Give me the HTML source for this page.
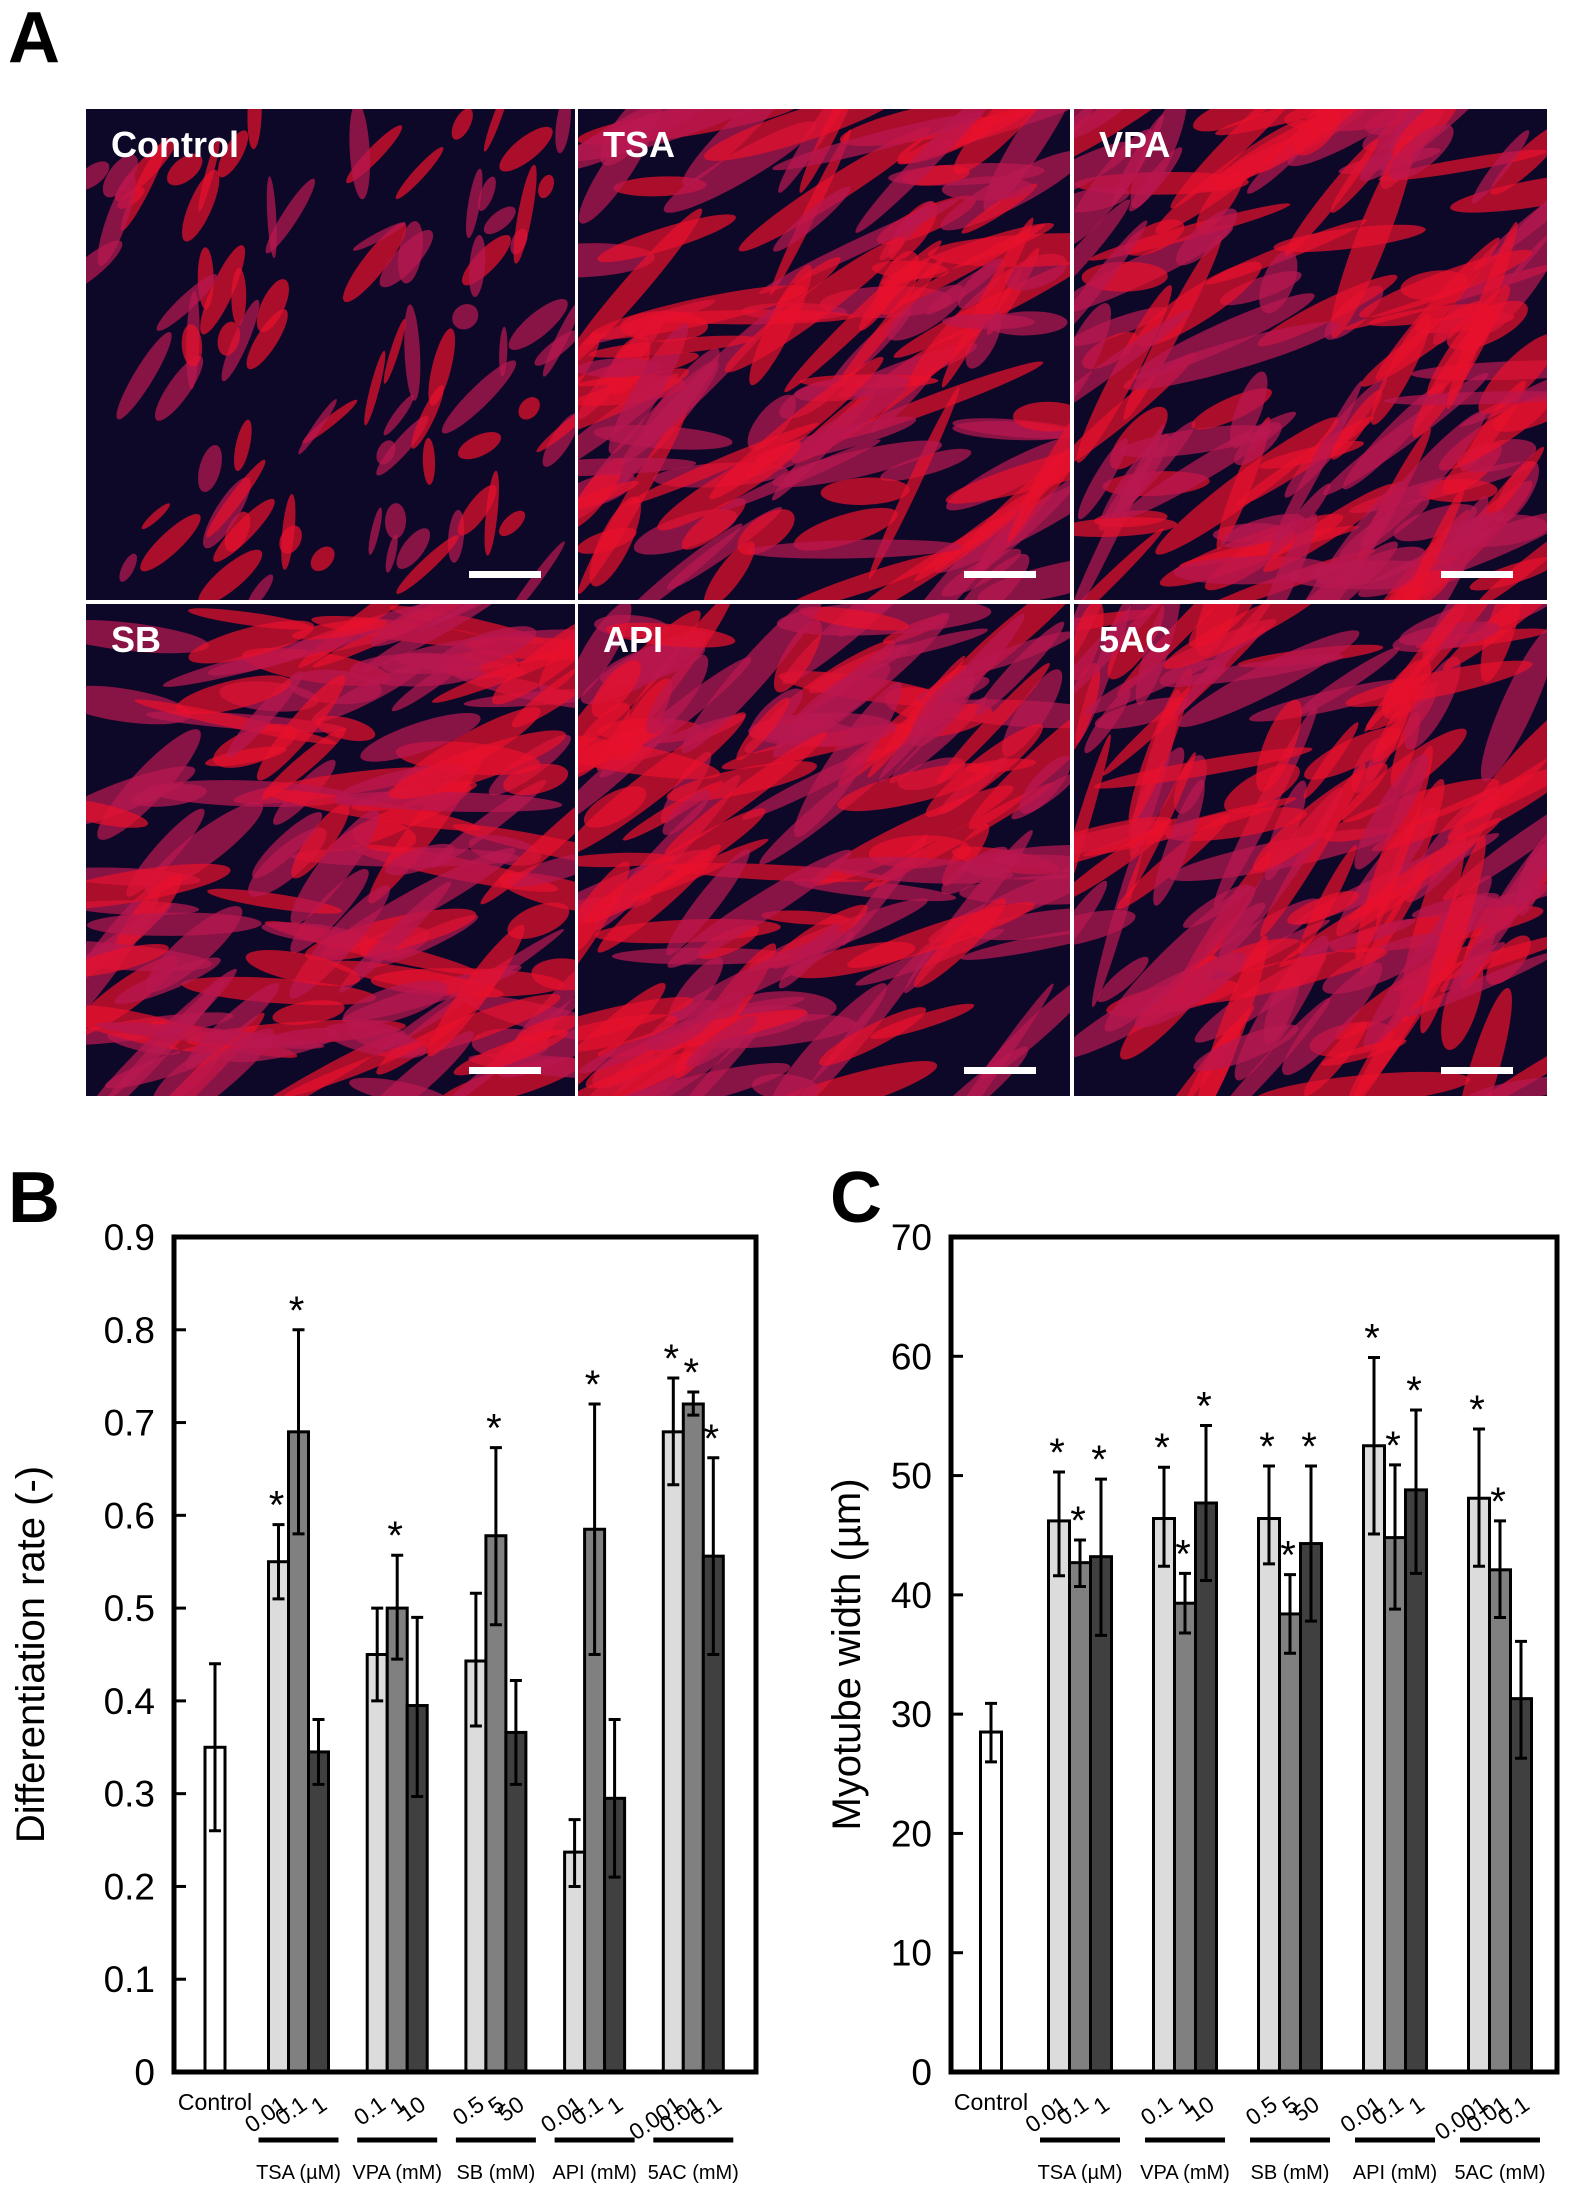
<!DOCTYPE html>
<html><head><meta charset="utf-8">
<style>
html,body{margin:0;padding:0;background:#fff;}
svg{display:block;font-family:"Liberation Sans",Arial,sans-serif;}
</style></head>
<body>
<svg id="fig" width="1575" height="2186" viewBox="0 0 1575 2186" xmlns="http://www.w3.org/2000/svg">
<defs>
<clipPath id="c0"><rect x="86" y="109" width="489" height="491"/></clipPath>
<clipPath id="c1"><rect x="578" y="109" width="492" height="491"/></clipPath>
<clipPath id="c2"><rect x="1074" y="109" width="473" height="491"/></clipPath>
<clipPath id="c3"><rect x="86" y="604" width="489" height="492"/></clipPath>
<clipPath id="c4"><rect x="578" y="604" width="492" height="492"/></clipPath>
<clipPath id="c5"><rect x="1074" y="604" width="473" height="492"/></clipPath>
</defs>
<text x="8" y="62" font-size="72" font-weight="bold">A</text>
<text x="8" y="1222" font-size="72" font-weight="bold">B</text>
<text x="830" y="1222" font-size="72" font-weight="bold">C</text>
<g id="micro"></g>
<g id="chartB"></g>
<g id="chartC"></g>
</svg>
<script>
const NS="http://www.w3.org/2000/svg";
function mk(p,tag,attrs,txt){const e=document.createElementNS(NS,tag);for(const k in attrs)e.setAttribute(k,attrs[k]);if(txt!==undefined)e.textContent=txt;p.appendChild(e);return e;}

// ---------- Panel A micrographs (decorative) ----------
const panelNames=["Control","TSA","VPA","SB","API","5AC"];
const cells=[[86,109,489,491],[578,109,492,491],[1074,109,473,491],[86,604,489,492],[578,604,492,492],[1074,604,473,492]];
const density=[90,130,140,140,140,135];
const angles=[-60,-30,-35,-20,-25,-40];
let seed=12345;function rnd(){seed=(seed*1103515245+12345)%2147483648;return seed/2147483648;}
const micro=document.getElementById('micro');
mk(micro,'rect',{x:84,y:107,width:1465,height:991,fill:'#ffffff'});
cells.forEach((c,i)=>{
  const g=mk(micro,'g',{'clip-path':'url(#c'+i+')'});
  
  
  mk(g,'rect',{x:c[0],y:c[1],width:c[2],height:c[3],fill:'#0e0828'});
  for(let k=0;k<density[i];k++){
    const cx=c[0]+rnd()*c[2], cy=c[1]+rnd()*c[3];
    const len=i==0?12+rnd()*40:30+rnd()*85, w=i==0?4+rnd()*8:6+rnd()*11;
    const a=angles[i]+(rnd()-0.5)*70;
    mk(g,'ellipse',{cx:cx,cy:cy,rx:len,ry:w,fill:rnd()<0.5?'#e8102c':'#b81850','fill-opacity':0.72,transform:`rotate(${a} ${cx} ${cy})`});
  }
  const lx=c[0]+25, ly=c[1]+48;
  const t=mk(g,'text',{x:lx,y:ly,'font-size':36,'font-weight':'bold',fill:'#fff'},panelNames[i]);
  
  
  const sb=mk(g,'rect',{x:c[0]+c[2]-106,y:c[1]+c[3]-29,width:72,height:7,fill:'#fff'});
  
  
});

// ---------- Chart data ----------
const groups=["TSA (\u00b5M)","VPA (mM)","SB (mM)","API (mM)","5AC (mM)"];
const doses=[["0.01","0.1","1"],["0.1","1","10"],["0.5","5","50"],["0.01","0.1","1"],["0.001","0.01","0.1"]];
const bControl=[0.35,0.26,0.44];
const bMean=[[0.55,0.69,0.345],[0.45,0.50,0.395],[0.443,0.578,0.366],[0.237,0.585,0.295],[0.69,0.72,0.556]];
const bLo=[[0.51,0.58,0.31],[0.40,0.445,0.297],[0.373,0.482,0.31],[0.20,0.45,0.21],[0.633,0.708,0.45]];
const bHi=[[0.59,0.80,0.38],[0.50,0.557,0.49],[0.516,0.673,0.422],[0.272,0.72,0.38],[0.748,0.733,0.662]];
const bStar=[[1,1,0],[0,1,0],[0,1,0],[0,1,0],[1,1,1]];
const bTicks=["0","0.1","0.2","0.3","0.4","0.5","0.6","0.7","0.8","0.9"];
const cControl=[28.5,26.0,30.9];
const cMean=[[46.2,42.7,43.2],[46.4,39.3,47.7],[46.4,38.4,44.3],[52.5,44.8,48.8],[48.1,42.1,31.3]];
const cLo=[[41.6,40.7,36.6],[42.4,36.8,41.2],[42.6,35.1,37.8],[45.1,38.8,41.8],[42.4,38.1,26.3]];
const cHi=[[50.3,44.6,49.7],[50.7,41.8,54.2],[50.8,41.7,50.8],[59.9,50.9,55.5],[53.9,46.2,36.1]];
const cStar=[[1,1,1],[1,1,1],[1,1,1],[1,1,1],[1,1,0]];
const cTicks=["0","10","20","30","40","50","60","70"];
const fills=["#dcdcdc","#808080","#404040"];

function drawChart(root,o){
  const {L,R,T,B,ymax,ticks,ctrlOff,g0Off,gap,bw,title,ctrl,mean,lo,hi,star,tickX,titleX,prefix}=o;
  const y=v=>B-(v/ymax)*(B-T);
  const gx=(gi,bi)=>L+g0Off+gi*gap+(bi-1)*bw;
  ticks.forEach(t=>{
    const v=parseFloat(t);
    const tk=mk(root,'line',{x1:L,x2:L+12,y1:y(v),y2:y(v),stroke:'#000','stroke-width':3});
    
    
    const tl=mk(root,'text',{x:tickX,y:y(v)+13,'font-size':37,'text-anchor':'end'},t);
    
    
  });
  const yt=mk(root,'text',{x:titleX,y:(T+B)/2,'font-size':40,'text-anchor':'middle',transform:`rotate(-90 ${titleX} ${(T+B)/2})`},title);
  
  
  function bar(cx,m,l,h,fill,name){
    const r=mk(root,'rect',{x:cx-bw/2,y:y(m),width:bw,height:B-y(m),fill:fill,stroke:'#000','stroke-width':3});
    
    
    const e=mk(root,'path',{d:`M${cx},${y(l)}V${y(h)}M${cx-6},${y(l)}H${cx+6}M${cx-6},${y(h)}H${cx+6}`,stroke:'#000','stroke-width':3,fill:'none'});
    
    
  }
  const cx0=L+ctrlOff;
  bar(cx0,ctrl[0],ctrl[1],ctrl[2],'#fff','bar-control');
  const ct=mk(root,'text',{x:cx0,y:B+38,'font-size':23,'text-anchor':'middle'},'Control');
  
  
  groups.forEach((g,gi)=>{
    for(let bi=0;bi<3;bi++){
      const cx=gx(gi,bi);
      bar(cx,mean[gi][bi],lo[gi][bi],hi[gi][bi],fills[bi],'bar-'+prefix+gi+'-'+bi);
      if(star[gi][bi]){
        const s=mk(root,'text',{x:cx-2,y:y(hi[gi][bi])-6,'font-size':40,'text-anchor':'middle'},'*');
        
        
      }
      const dx=cx+10, dy=B+36;
      const dl=mk(root,'text',{x:dx,y:dy,'font-size':23,'text-anchor':'end',transform:`rotate(-35 ${dx} ${dy})`},doses[gi][bi]);
      
      
    }
    const c=gx(gi,1);
    const ul=mk(root,'line',{x1:c-40,x2:c+40,y1:B+68,y2:B+68,stroke:'#000','stroke-width':5});
    
    
    const gl=mk(root,'text',{x:c,y:B+107,'font-size':20,'text-anchor':'middle'},g);
    
    
  });
  const fr=mk(root,'rect',{x:L,y:T,width:R-L,height:B-T,fill:'none',stroke:'#000','stroke-width':5});
  
  
}
drawChart(document.getElementById('chartB'),{L:174,R:756,T:1237,B:2072,ymax:0.9,ticks:bTicks,ctrlOff:41,g0Off:124.5,gap:98.7,bw:20,
  title:"Differentiation rate (-)",ctrl:bControl,mean:bMean,lo:bLo,hi:bHi,star:bStar,tickX:155,titleX:44,prefix:'b'});
drawChart(document.getElementById('chartC'),{L:951,R:1557,T:1237,B:2072,ymax:70,ticks:cTicks,ctrlOff:40,g0Off:129,gap:105,bw:21,
  title:"Myotube width (\u00b5m)",ctrl:cControl,mean:cMean,lo:cLo,hi:cHi,star:cStar,tickX:932,titleX:860,prefix:'c'});
</script>
</body></html>
